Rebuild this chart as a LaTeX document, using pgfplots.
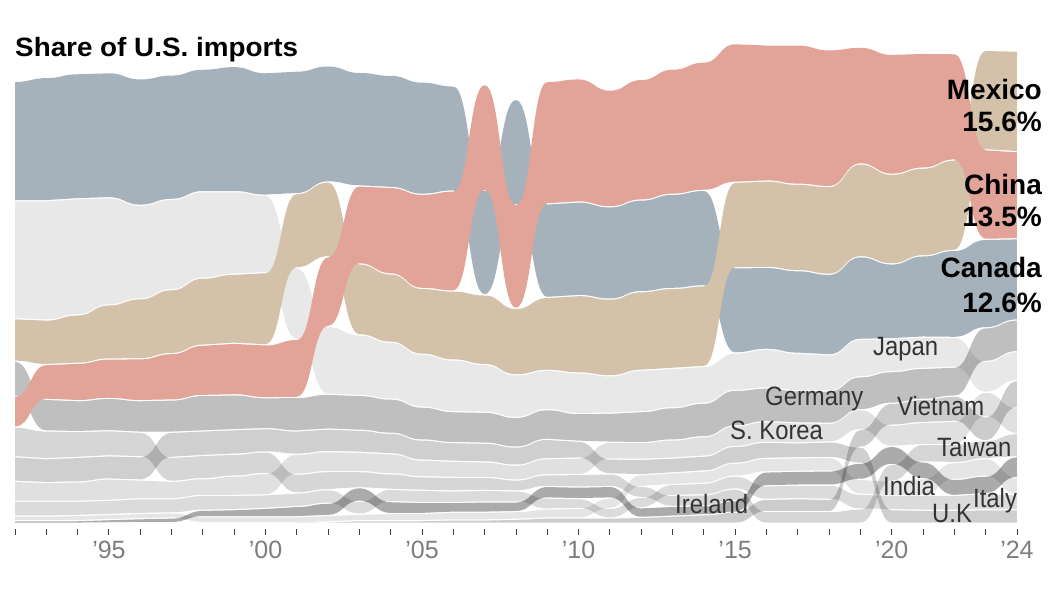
\documentclass[border=0pt]{standalone}
\usepackage{fontspec}
\setmainfont{Liberation Sans}
\newfontfamily\labfont[FakeStretch=0.9]{Liberation Sans}
\newfontfamily\titlefont[FakeStretch=1.05]{Liberation Sans}
\usepackage{pgfplots}
\usepackage{pgfplotstable}
\pgfplotsset{compat=1.18}
\usepgfplotslibrary{fillbetween}

% --- plot handler: horizontal-tangent cubic between consecutive points (bump-x) ---
\makeatletter
\def\pgfplothandlerbumpx{%
  \def\pgf@plotstreamstart{%
    \global\let\pgf@plotstreampoint=\pgf@plot@bumpx@first
    \global\let\pgf@plotstreamspecial=\pgfutil@gobble
    \global\let\pgf@plotstreamend=\pgfutil@empty
  }%
}
\def\pgf@plot@bumpx@first#1{%
  \pgf@process{#1}%
  \xdef\pgf@plot@bumpx@px{\the\pgf@x}%
  \xdef\pgf@plot@bumpx@py{\the\pgf@y}%
  \pgf@plot@first@action{\pgfqpoint{\pgf@plot@bumpx@px}{\pgf@plot@bumpx@py}}%
  \global\let\pgf@plotstreampoint=\pgf@plot@bumpx@next
}
\def\pgf@plot@bumpx@next#1{%
  \pgf@process{#1}%
  \edef\pgf@plot@bumpx@cx{\the\pgf@x}%
  \edef\pgf@plot@bumpx@cy{\the\pgf@y}%
  \pgf@xa=\pgf@plot@bumpx@px\relax
  \advance\pgf@xa by \pgf@x
  \divide\pgf@xa by 2
  \edef\pgf@plot@bumpx@mx{\the\pgf@xa}%
  \pgfpathcurveto{\pgfqpoint{\pgf@plot@bumpx@mx}{\pgf@plot@bumpx@py}}%
                 {\pgfqpoint{\pgf@plot@bumpx@mx}{\pgf@plot@bumpx@cy}}%
                 {\pgfqpoint{\pgf@plot@bumpx@cx}{\pgf@plot@bumpx@cy}}%
  \global\let\pgf@plot@bumpx@px=\pgf@plot@bumpx@cx
  \global\let\pgf@plot@bumpx@py=\pgf@plot@bumpx@cy
}
\tikzset{bumpx/.code={\let\tikz@plot@handler=\pgfplothandlerbumpx}}
\makeatother

\definecolor{canC}{RGB}{165,178,188}
\definecolor{chiC}{RGB}{226,163,152}
\definecolor{mexC}{RGB}{211,194,169}
\definecolor{labC}{RGB}{51,51,51}
\definecolor{tickC}{RGB}{125,125,125}

% stacked positions (share of U.S. imports, %), lower and upper edge of each band
\pgfplotstableread{
year lo hi
1992 50.0 68.5
1993 50.0 69.1
1994 50.3 69.7
1995 50.45 69.85
1996 49.3 68.9
1997 50.2 69.5
1998 51.4 70.4
1999 51.4 70.8
2000 50.85 69.85
2001 51.1 70.1
2002 52.9 70.9
2003 52.3 69.9
2004 52.05 69.45
2005 51.0 68.4
2006 51.5 67.8
2007 35.4 51.6
2008 49.4 65.7
2009 35.0 49.5
2010 35.3 49.8
2011 34.75 49.05
2012 35.9 50.1
2013 36.4 51.0
2014 36.8 51.6
2015 26.4 39.6
2016 26.95 39.65
2017 26.35 39.15
2018 26.1 38.6
2019 28.5 41.3
2020 28.6 40.2
2021 28.85 41.45
2022 28.8 42.3
2023 30.3 44.0
2024 31.5 44.1
}\tabCan

\pgfplotstableread{
year lo hi
1992 14.9 19.7
1993 19.2 24.6
1994 19.0 24.8
1995 19.35 25.45
1996 19.0 25.5
1997 19.1 26.3
1998 19.8 27.6
1999 19.9 27.9
2000 19.45 27.65
2001 19.5 28.5
2002 30.5 41.3
2003 40.2 52.3
2004 38.65 52.05
2005 36.4 51.0
2006 36.0 51.5
2007 51.6 68.0
2008 33.3 49.4
2009 49.5 68.5
2010 49.8 68.9
2011 49.05 67.15
2012 50.1 68.8
2013 51.0 70.4
2014 51.6 71.5
2015 52.85 74.35
2016 53.05 74.15
2017 52.55 74.15
2018 52.2 73.4
2019 55.7 73.8
2020 54.1 72.7
2021 55.05 72.85
2022 56.3 72.8
2023 44.0 57.9
2024 44.1 57.6
}\tabChi

\pgfplotstableread{
year lo hi
1992 25.1 31.7
1993 24.6 31.5
1994 24.8 32.3
1995 25.45 33.85
1996 25.5 34.8
1997 26.3 36.2
1998 27.6 38.0
1999 27.9 38.6
2000 27.65 38.85
2001 39.6 51.1
2002 41.3 52.9
2003 29.2 40.2
2004 28.05 38.65
2005 26.2 36.4
2006 25.3 36.0
2007 24.6 35.4
2008 23.0 33.3
2009 23.7 35.0
2010 23.3 35.3
2011 22.85 34.75
2012 23.7 35.9
2013 24.0 36.4
2014 24.3 36.8
2015 39.6 52.85
2016 39.65 53.05
2017 39.15 52.55
2018 38.6 52.2
2019 41.3 55.7
2020 40.2 54.1
2021 41.45 55.05
2022 42.3 56.3
2023 57.9 73.3
2024 57.6 73.2
}\tabMex

\pgfplotstableread{
year lo hi
1992 31.7 50.0
1993 31.5 50.0
1994 32.3 50.3
1995 33.85 50.45
1996 34.8 49.3
1997 36.2 50.2
1998 38.0 51.4
1999 38.6 51.4
2000 38.85 50.85
2001 28.5 39.6
2002 20.0 30.5
2003 19.8 29.2
2004 19.25 28.05
2005 18.0 26.2
2006 17.3 25.3
2007 17.2 24.6
2008 16.4 23.0
2009 17.6 23.7
2010 17.0 23.3
2011 17.05 22.85
2012 17.3 23.7
2013 17.9 24.0
2014 18.6 24.3
2015 20.6 26.4
2016 20.95 26.95
2017 20.55 26.35
2018 20.5 26.1
2019 22.7 28.5
2020 23.5 28.6
2021 24.0 28.85
2022 24.2 28.8
2023 20.3 25.1
2024 22.1 26.6
}\tabJap

\pgfplotstableread{
year lo hi
1992 19.7 25.1
1993 14.3 19.2
1994 14.2 19.0
1995 14.35 19.35
1996 14.1 19.0
1997 14.1 19.1
1998 14.3 19.8
1999 14.5 19.9
2000 14.65 19.45
2001 14.3 19.5
2002 14.6 20.0
2003 14.4 19.8
2004 13.95 19.25
2005 12.9 18.0
2006 12.5 17.3
2007 12.4 17.2
2008 11.8 16.4
2009 13.0 17.6
2010 12.7 17.0
2011 12.55 17.05
2012 12.5 17.3
2013 12.9 17.9
2014 13.4 18.6
2015 15.1 20.6
2016 15.75 20.95
2017 15.55 20.55
2018 15.5 20.5
2019 17.6 22.7
2020 18.6 23.5
2021 19.2 24.0
2022 19.7 24.2
2023 25.1 30.3
2024 26.6 31.5
}\tabGer

\pgfplotstableread{
year lo hi
1992 3.4 6.5
1993 3.4 6.3
1994 3.4 6.4
1995 3.55 6.85
1996 3.8 6.7
1997 3.8 6.5
1998 4.3 6.9
1999 4.3 7.3
2000 4.4 7.7
2001 7.6 10.7
2002 8.0 11.1
2003 8.0 11.0
2004 7.65 10.75
2005 7.2 9.8
2006 7.1 9.6
2007 7.1 9.5
2008 6.7 9.0
2009 7.5 10.0
2010 7.55 10.1
2011 9.95 12.55
2012 9.9 12.5
2013 10.1 12.9
2014 10.4 13.4
2015 11.9 15.1
2016 12.55 15.75
2017 12.45 15.55
2018 12.6 15.5
2019 14.5 17.6
2020 11.9 15.2
2021 12.2 15.6
2022 12.2 15.8
2023 16.5 20.3
2024 13.9 17.9
}\tabKor

\pgfplotstableread{
year lo hi
1992 10.3 14.9
1993 10.0 14.3
1994 10.2 14.2
1995 10.45 14.35
1996 10.3 14.1
1997 6.5 10.2
1998 6.9 10.5
1999 7.3 10.7
2000 7.7 11.05
2001 4.7 7.6
2002 5.2 8.0
2003 5.5 8.0
2004 5.25 7.65
2005 5.1 7.2
2006 5.0 7.1
2007 5.1 7.1
2008 5.0 6.7
2009 5.7 7.5
2010 5.6 7.55
2011 5.7 7.65
2012 4.0 5.7
2013 2.6 4.3
2014 2.7 4.4
2015 3.5 5.3
2016 0 1.8
2017 0 1.8
2018 0 1.8
2019 0 2.2
2020 6.5 9.1
2021 9.5 12.2
2022 9.4 12.2
2023 10.0 12.8
2024 10.3 13.9
}\tabTai

\pgfplotstableread{
year lo hi
1992 6.5 10.3
1993 6.3 10.0
1994 6.4 10.2
1995 6.85 10.45
1996 6.7 10.3
1997 10.2 14.1
1998 10.5 14.3
1999 10.7 14.5
2000 11.05 14.65
2001 10.7 14.3
2002 11.1 14.6
2003 11.0 14.4
2004 10.75 13.95
2005 9.8 12.9
2006 9.6 12.5
2007 9.5 12.4
2008 9.0 11.8
2009 10.0 13.0
2010 10.1 12.7
2011 7.65 9.95
2012 7.5 9.9
2013 7.8 10.1
2014 8.1 10.4
2015 9.3 11.9
2016 10.05 12.55
2017 10.15 12.45
2018 10.2 12.6
2019 9.3 11.8
2020 0 2.1
2021 0 2.0
2022 0 2.0
2023 0 2.1
2024 0 2.1
}\tabUK

\pgfplotstableread{
year lo hi
1992 1.1 3.4
1993 1.1 3.4
1994 1.2 3.4
1995 1.35 3.55
1996 1.5 3.8
1997 1.6 3.8
1998 2.0 4.3
1999 2.1 4.3
2000 2.3 4.4
2001 2.6 4.7
2002 3.1 5.2
2003 1.4 3.4
2004 3.35 5.25
2005 3.2 5.1
2006 3.2 5.0
2007 3.3 5.1
2008 3.3 5.0
2009 2.2 3.9
2010 2.3 3.8
2011 0.8 2.3
2012 2.4 4.0
2013 4.3 6.0
2014 4.4 6.2
2015 5.3 7.3
2016 3.7 5.8
2017 3.8 5.9
2018 3.7 5.9
2019 2.2 4.5
2020 2.1 4.3
2021 2.0 4.3
2022 2.0 4.3
2023 2.1 4.6
2024 2.1 4.4
}\tabIta

\pgfplotstableread{
year lo hi
1992 0.4 1.1
1993 0.4 1.1
1994 0.4 1.2
1995 0.55 1.35
1996 0.7 1.5
1997 0.8 1.6
1998 0.1 1.0
1999 0.1 1.0
2000 0.1 1.0
2001 0.1 1.0
2002 0.2 1.2
2003 0.4 1.4
2004 0.4 1.5
2005 0.4 1.5
2006 0.5 1.7
2007 0.5 1.7
2008 0.6 1.8
2009 0.8 2.2
2010 0.8 2.3
2011 2.3 3.9
2012 5.7 7.5
2013 6.0 7.8
2014 6.2 8.1
2015 7.3 9.3
2016 7.95 10.05
2017 8.05 10.15
2018 8.1 10.2
2019 4.5 6.8
2020 4.3 6.5
2021 4.3 6.9
2022 6.8 9.4
2023 7.3 10.0
2024 4.4 7.1
}\tabInd

\pgfplotstableread{
year lo hi
1992 0 0.4
1993 0 0.4
1994 0 0.4
1995 0.05 0.55
1996 0.1 0.7
1997 0.1 0.8
1998 1.0 2.0
1999 1.0 2.1
2000 1.0 2.3
2001 1.0 2.6
2002 1.2 3.1
2003 3.4 5.5
2004 1.5 3.35
2005 1.5 3.2
2006 1.7 3.2
2007 1.7 3.3
2008 1.8 3.3
2009 3.9 5.7
2010 3.8 5.6
2011 3.9 5.7
2012 0.9 2.4
2013 1.1 2.6
2014 1.3 2.7
2015 1.7 3.5
2016 5.8 7.95
2017 5.9 8.05
2018 5.9 8.1
2019 6.8 9.3
2020 9.1 11.9
2021 6.9 9.5
2022 4.3 6.8
2023 4.6 7.3
2024 7.1 10.3
}\tabIre

\pgfplotstableread{
year lo hi
2001 0 0.1
2002 0 0.2
2003 0 0.4
2004 0 0.4
2005 0 0.4
2006 0 0.5
2007 0 0.5
2008 0 0.6
2009 0 0.8
2010 0 0.8
2011 0 0.8
2012 0 0.9
2013 0 1.1
2014 0 1.3
2015 0 1.7
2016 1.8 3.7
2017 1.8 3.8
2018 1.8 3.7
2019 11.8 14.5
2020 15.2 18.6
2021 15.6 19.2
2022 15.8 19.7
2023 12.8 16.5
2024 17.9 22.1
}\tabVie

\newcommand\band[3]{%
  \addplot[draw=none,forget plot,bumpx,name path=#1H] table[x=year,y expr=\thisrow{hi}-0.1]{#2};
  \addplot[draw=none,forget plot,bumpx,name path=#1L] table[x=year,y expr=\thisrow{lo}+0.1]{#2};
  \addplot[draw=none,forget plot,#3] fill between[of=#1H and #1L];
}

\begin{document}
\begin{tikzpicture}
\begin{axis}[
  at={(15pt,65pt)}, anchor=south west,
  scale only axis, width=1002pt, height=496.0pt,
  xmin=1992, xmax=2024, ymin=-0.9, ymax=76,
  clip=false,
  axis x line=bottom, axis y line=none,
  x axis line style={draw=none},
  tick align=outside,
  xtick={1995,2000,2005,2010,2015,2020,2024},
  xticklabels={’95,’00,’05,’10,’15,’20,’24},
  minor xtick={1992,1993,...,2024},
  major tick length=6pt, minor tick length=6pt,
  every tick/.style={draw=black!75, line width=0.9pt},
  xticklabel style={font=\fontsize{25}{25}\selectfont, text=tickC, inner sep=6pt},
]
\band{ire}{\tabIre}{fill=black, fill opacity=0.33}
\band{ind}{\tabInd}{fill=black, fill opacity=0.10}
\band{ita}{\tabIta}{fill=black, fill opacity=0.14}
\band{uk}{\tabUK}{fill=black, fill opacity=0.19}
\band{tai}{\tabTai}{fill=black, fill opacity=0.16}
\band{kor}{\tabKor}{fill=black, fill opacity=0.12}
\band{vie}{\tabVie}{fill=black, fill opacity=0.20}
\band{ger}{\tabGer}{fill=black, fill opacity=0.25}
\band{jap}{\tabJap}{fill=black, fill opacity=0.09}
\band{can}{\tabCan}{fill=canC}
\band{mex}{\tabMex}{fill=mexC}
\band{chi}{\tabChi}{fill=chiC}
\end{axis}

\node[anchor=base west, inner sep=0, font=\titlefont\bfseries\fontsize{26.5}{26.5}\selectfont] at (15pt,537pt) {Share of U.S. imports};

\begin{scope}[every node/.style={anchor=base east, inner sep=0, font=\bfseries\fontsize{28}{28}\selectfont}]
\node at (1042pt,494pt) {Mexico};
\node at (1042pt,462pt) {15.6\%};
\node at (1042pt,399pt) {China};
\node at (1042pt,367pt) {13.5\%};
\node at (1042pt,316pt) {Canada};
\node at (1042pt,281pt) {12.6\%};
\end{scope}

\begin{scope}[every node/.style={anchor=base west, inner sep=0, text=labC, font=\labfont\fontsize{26.5}{26.5}\selectfont}]
\node at (873pt,238pt) {Japan};
\node at (765pt,188pt) {Germany};
\node at (897pt,178pt) {Vietnam};
\node at (730pt,154pt) {S. Korea};
\node at (937pt,137pt) {Taiwan};
\node at (883pt,99pt) {India};
\node at (932pt,72pt) {U.K};
\node at (973pt,87pt) {Italy};
\node at (675pt,81pt) {Ireland};
\end{scope}
\pgfresetboundingbox
\path[use as bounding box] (0,0) rectangle (1056pt,594pt);
\end{tikzpicture}
\end{document}
